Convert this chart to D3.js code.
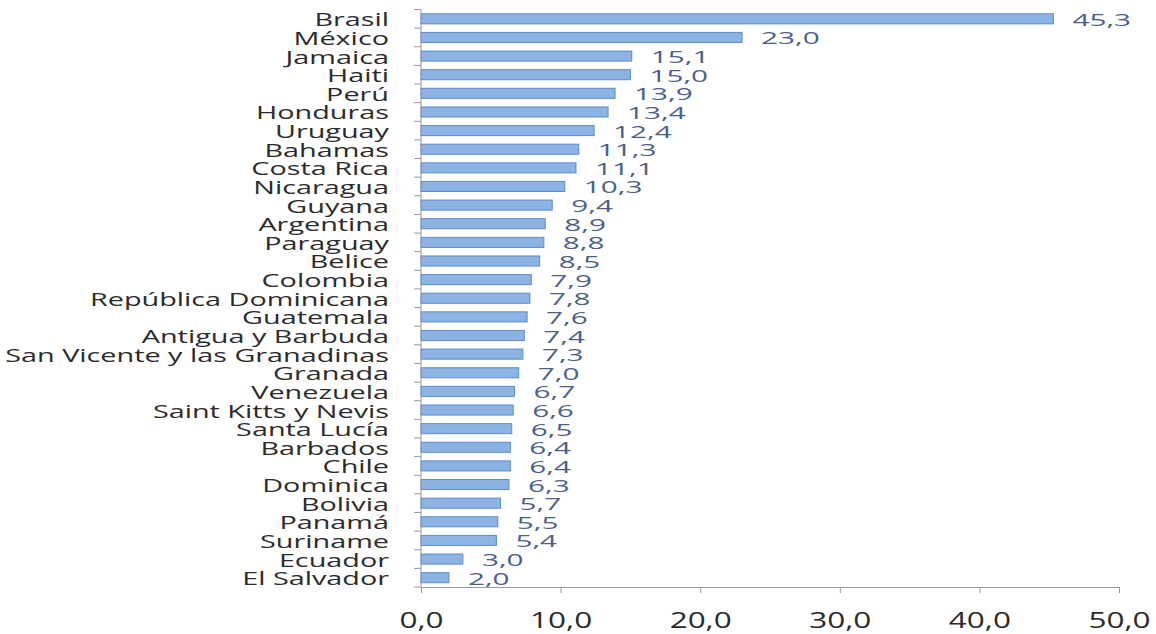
<!DOCTYPE html>
<html>
<head>
<meta charset="utf-8">
<script src="https://cdn.jsdelivr.net/npm/d3@7"></script>
<style>
  html, body { margin: 0; padding: 0; background: #fff; }
  svg { display: block; }
  text { font-family: "Open Sans", "Noto Sans", sans-serif; }
</style>
</head>
<body>
<svg id="chart" width="1156" height="634"></svg>
<script>
// Countries, ordered from top to bottom
const countries = [
  "Brasil", "México", "Jamaica", "Haiti", "Perú", "Honduras", "Uruguay",
  "Bahamas", "Costa Rica", "Nicaragua", "Guyana", "Argentina", "Paraguay",
  "Belice", "Colombia", "República Dominicana", "Guatemala",
  "Antigua y Barbuda", "San Vicente y las Granadinas", "Granada",
  "Venezuela", "Saint Kitts y Nevis", "Santa Lucía", "Barbados", "Chile",
  "Dominica", "Bolivia", "Panamá", "Suriname", "Ecuador", "El Salvador"
];
const values = [
  45.3, 23.0, 15.1, 15.0, 13.9, 13.4, 12.4,
  11.3, 11.1, 10.3, 9.4, 8.9, 8.8,
  8.5, 7.9, 7.8, 7.6,
  7.4, 7.3, 7.0,
  6.7, 6.6, 6.5, 6.4, 6.4,
  6.3, 5.7, 5.5, 5.4, 3.0, 2.0
];
const xTicks = [0, 10, 20, 30, 40, 50];

const data = countries.map((c, i) => ({ country: c, value: values[i] }));
const fmt = v => v.toFixed(1).replace(".", ",");

const margin = { top: 9.5, right: 37, bottom: 47, left: 421 };
const width = 1156, height = 634;
const svg = d3.select("#chart");

const x = d3.scaleLinear()
  .domain([0, 50])
  .range([margin.left, width - margin.right]);

const y = d3.scaleBand()
  .domain(countries)
  .range([margin.top, height - margin.bottom])
  .paddingInner(0.46)
  .paddingOuter(0.23);

const axisColor = "#9a9a9a";

// Bars
svg.append("g")
  .selectAll("rect")
  .data(data)
  .join("rect")
  .attr("x", x(0))
  .attr("y", d => y(d.country))
  .attr("width", d => x(d.value) - x(0))
  .attr("height", y.bandwidth())
  .attr("fill", "#8db3e2")
  .attr("stroke", "#5b8cd0")
  .attr("stroke-width", 1);

// Value labels (wide letterforms)
svg.append("g")
  .selectAll("text")
  .data(data)
  .join("text")
  .attr("transform", d => `translate(${x(d.value) + 19},${y(d.country) + y.bandwidth() / 2 + 7}) scale(1.75,1)`)
  .attr("font-size", 17)
  .attr("fill", "#4a5f8c")
  .text(d => fmt(d.value));

// Category axis: tick marks sit between categories
const step = y.step();
const boundaries = d3.range(countries.length + 1).map(i => margin.top + i * step);
const yAxis = svg.append("g");
yAxis.append("line")
  .attr("x1", x(0)).attr("x2", x(0))
  .attr("y1", margin.top).attr("y2", height - margin.bottom)
  .attr("stroke", axisColor);
yAxis.selectAll("line.tick")
  .data(boundaries)
  .join("line")
  .attr("class", "tick")
  .attr("x1", x(0) - 7).attr("x2", x(0))
  .attr("y1", d => d).attr("y2", d => d)
  .attr("stroke", axisColor);
yAxis.selectAll("text")
  .data(countries)
  .join("text")
  .attr("transform", d => `translate(${x(0) - 32},${y(d) + y.bandwidth() / 2 + 7.5}) scale(1.6,1)`)
  .attr("text-anchor", "end")
  .attr("font-size", 18)
  .attr("fill", "#2b2b2b")
  .text(d => d);

// Value axis
const xAxis = svg.append("g")
  .attr("transform", `translate(0,${height - margin.bottom})`)
  .call(d3.axisBottom(x).tickValues(xTicks).tickSize(6).tickFormat(fmt));
xAxis.select(".domain").attr("stroke", axisColor);
xAxis.selectAll(".tick line").attr("stroke", axisColor);
xAxis.selectAll(".tick text")
  .attr("font-size", 21)
  .attr("fill", "#2b2b2b")
  .attr("y", 0)
  .attr("dy", 0)
  .attr("transform", `translate(0,41) scale(1.5,1)`)
  .attr("font-family", "\"Open Sans\", \"Noto Sans\", sans-serif");
</script>
</body>
</html>
